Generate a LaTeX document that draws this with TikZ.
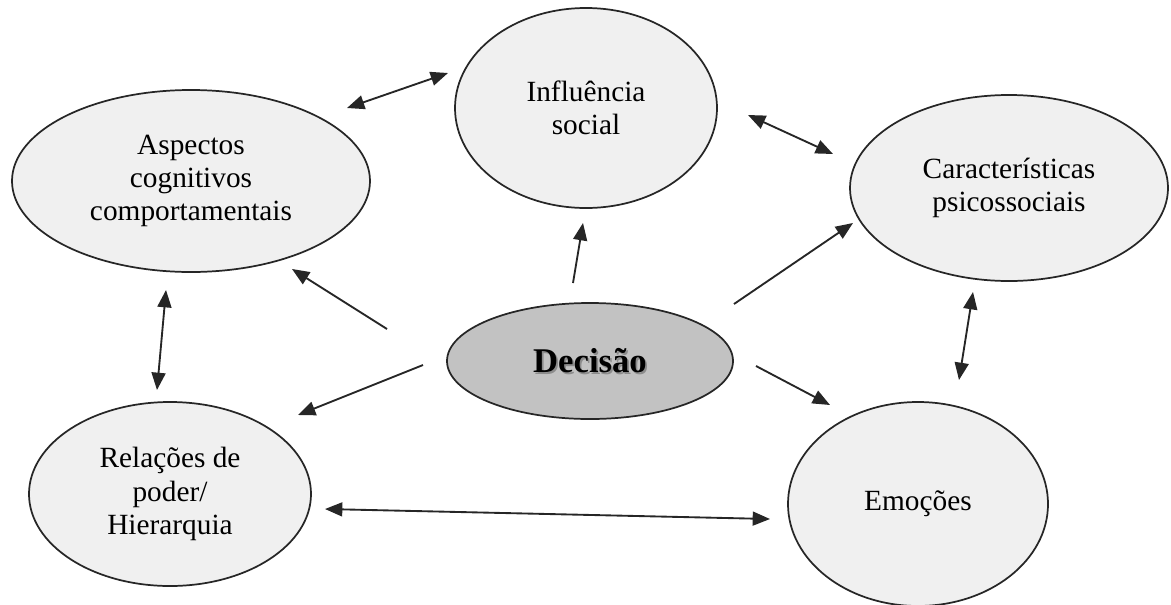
\documentclass[tikz,border=0pt]{standalone}
\usepackage{fontspec}
\setmainfont{Liberation Serif}
\usetikzlibrary{arrows.meta,shapes.geometric}

\tikzset{
  bubble/.style={ellipse, draw=black!85, line width=1.3pt, fill=black!6,
    inner sep=0pt, align=center,
    font=\fontsize{22}{25}\selectfont},
  core/.style={ellipse, draw=black!85, line width=1.3pt, fill=black!24,
    inner sep=0pt},
  coretext/.style={font=\bfseries\fontsize{26}{30}\selectfont, inner sep=0pt},
  link/.style={line width=1.4pt, draw=black!85,
    -{Triangle[length=13pt,width=10.5pt]}},
  duallink/.style={line width=1.4pt, draw=black!85,
    {Triangle[length=13pt,width=10.5pt]}-{Triangle[length=13pt,width=10.5pt]}}
}

\begin{document}
\begin{tikzpicture}[x=0.75pt,y=-0.75pt]
  \useasboundingbox (0,0) rectangle (1171,604);

  % outer factors
  \node[bubble, minimum width=196.5pt, minimum height=150pt] (inf) at (586,108)
    {Influência\\social};
  \node[bubble, minimum width=268.5pt, minimum height=136.5pt] (asp) at (191,181)
    {Aspectos\\cognitivos\\comportamentais};
  \node[bubble, minimum width=238.5pt, minimum height=139.5pt] (car) at (1009,188)
    {Características\\psicossociais};
  \node[bubble, minimum width=211.5pt, minimum height=138pt] (rel) at (170,494)
    {Relações de\\poder/\\Hierarquia};
  \node[bubble, minimum width=195pt, minimum height=153pt] (emo) at (918,504)
    {Emoções};

  % central decision
  \node[core, minimum width=214.5pt, minimum height=87pt] (dec) at (590,361) {};
  \node[coretext, text=black!45] (decsh) at ([xshift=1.3pt,yshift=-1.3pt]dec.center) {Decisão};
  \node[coretext] (declabel) at (dec.center) {Decisão};

  % connector end points
  \coordinate (decN1) at (573,283);   \coordinate (infS) at (583,223);
  \coordinate (decW1) at (387,329);   \coordinate (aspSE) at (292,269);
  \coordinate (decE1) at (734,304);   \coordinate (carSW) at (853,223);
  \coordinate (decW2) at (423,365);   \coordinate (relNE) at (298,415);
  \coordinate (decE2) at (756,366);   \coordinate (emoNW) at (830,405);
  \coordinate (aspNE) at (347,108);   \coordinate (infW) at (448,73);
  \coordinate (infE) at (748,115);    \coordinate (carNW) at (833,154);
  \coordinate (aspS) at (166,290);    \coordinate (relN) at (157,390);
  \coordinate (carS) at (973,292);    \coordinate (emoN) at (959,380);
  \coordinate (relE) at (325,509);    \coordinate (emoW) at (770,519);

  % influences from the decision
  \draw[link] (decN1) -- (infS);
  \draw[link] (decW1) -- (aspSE);
  \draw[link] (decE1) -- (carSW);
  \draw[link] (decW2) -- (relNE);
  \draw[link] (decE2) -- (emoNW);

  % mutual relations between factors
  \draw[duallink] (aspNE) -- (infW);
  \draw[duallink] (infE) -- (carNW);
  \draw[duallink] (aspS) -- (relN);
  \draw[duallink] (carS) -- (emoN);
  \draw[duallink] (relE) -- (emoW);
\end{tikzpicture}
\end{document}
